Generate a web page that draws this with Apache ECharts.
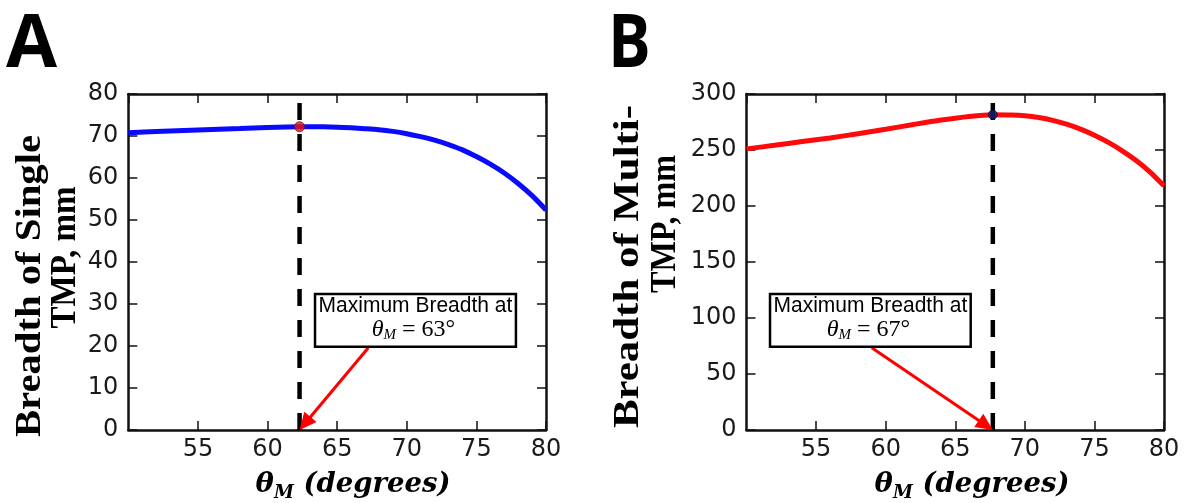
<!DOCTYPE html>
<html>
<head>
<meta charset="utf-8">
<script src="https://cdn.jsdelivr.net/npm/echarts@6/dist/echarts.min.js"></script>
<style>html,body{margin:0;padding:0;background:#fff;}#c{width:1185px;height:503px;}</style>
</head>
<body>
<div id="c"></div>
<script>
// ---- data ----
const thetaA = [50,52,54,56,58,60,62.3,64,65,66,67,68,69,70,71,72,73,74,75,76,77,78,79,80];
const breadthSingle = [70.8,71.05,71.3,71.55,71.8,72.05,72.2,72.18,72.1,71.95,71.75,71.5,71.1,70.55,69.85,69.0,67.95,66.7,65.1,63.3,61.2,58.7,55.8,52.4];
const thetaB = [50,52,54,56,58,60,62,64,66,67.7,69,70,71,72,73,74,75,76,77,78,79,80];
const breadthMulti = [251,254.2,257.5,260.8,264.5,268.5,272.8,276.8,280,281.5,281.3,280.6,279.0,276.5,273.0,268.6,263.2,256.8,249.3,240.6,230.3,218];
const peakA = [62.3, 72.2];
const peakB = [67.7, 281.5];
const dashTopA = 78.6;
const dashTopB = 294.6;
const xTicks = {min: 50, max: 80, interval: 5};
const yTicksA = {min: 0, max: 80, interval: 10};
const yTicksB = {min: 0, max: 300, interval: 50};
const noteA = {line1: 'Maximum Breadth at', value: '63°', box: [63.41, 32.38, 77.84, 19.83], from: [67.24, 19.6], to: [62.3, 0]};
const noteB = {line1: 'Maximum Breadth at', value: '67°', box: [51.69, 121.4, 66.11, 74.4], from: [59.0, 73.5], to: [67.7, 0]};

const chart = echarts.init(document.getElementById('c'), null, {renderer: 'canvas'});
const ink = '#111';
const tickFont = {fontFamily: 'DejaVu Sans', fontSize: 24, color: '#1a1a1a'};

function xAxes(grid) {
  return [
    {type: 'value', gridIndex: grid, position: 'bottom', ...xTicks,
     axisLine: {show: true, onZero: false, lineStyle: {color: ink, width: 2.5}},
     axisTick: {show: true, inside: true, length: 9, lineStyle: {color: ink, width: 1.5}},
     axisLabel: {show: true, showMinLabel: false, margin: 8, ...tickFont},
     splitLine: {show: false}},
    {type: 'value', gridIndex: grid, position: 'top', ...xTicks,
     axisLine: {show: true, onZero: false, lineStyle: {color: ink, width: 2.5}},
     axisTick: {show: true, inside: true, length: 9, lineStyle: {color: ink, width: 1.5}},
     axisLabel: {show: false}, splitLine: {show: false}}
  ];
}
function yAxes(grid, t) {
  return [
    {type: 'value', gridIndex: grid, position: 'left', ...t,
     axisLine: {show: true, onZero: false, lineStyle: {color: ink, width: 2.5}},
     axisTick: {show: true, inside: true, length: 9, lineStyle: {color: ink, width: 1.5}},
     axisLabel: {show: true, margin: 10, ...tickFont},
     splitLine: {show: false}},
    {type: 'value', gridIndex: grid, position: 'right', ...t,
     axisLine: {show: true, onZero: false, lineStyle: {color: ink, width: 2.5}},
     axisTick: {show: true, inside: true, length: 9, lineStyle: {color: ink, width: 1.5}},
     axisLabel: {show: false}, splitLine: {show: false}}
  ];
}
const zip = (xs, ys) => xs.map((x, i) => [x, ys[i]]);

chart.setOption({
  animation: false,
  backgroundColor: '#fff',
  grid: [
    {left: 128.3, top: 94, width: 417.7, height: 336},
    {left: 746.5, top: 94, width: 417.5, height: 336}
  ],
  xAxis: [...xAxes(0), ...xAxes(1)],
  yAxis: [...yAxes(0, yTicksA), ...yAxes(1, yTicksB)],
  series: [
    {type: 'line', xAxisIndex: 0, yAxisIndex: 0, data: zip(thetaA, breadthSingle), smooth: 0.3,
     showSymbol: false, lineStyle: {color: '#0a0aff', width: 5}, z: 2},
    {type: 'line', xAxisIndex: 0, yAxisIndex: 0, data: [[peakA[0], 0], [peakA[0], dashTopA]],
     showSymbol: false, lineStyle: {color: '#000', width: 4.5, type: [17, 14]}, z: 3},
    {type: 'scatter', xAxisIndex: 0, yAxisIndex: 0, data: [peakA], symbolSize: 10,
     itemStyle: {color: '#f01010', borderColor: '#552222', borderWidth: 1}, z: 4},
    {type: 'line', xAxisIndex: 2, yAxisIndex: 2, data: zip(thetaB, breadthMulti), smooth: 0.3,
     showSymbol: false, lineStyle: {color: '#ff0a0a', width: 5}, z: 2},
    {type: 'line', xAxisIndex: 2, yAxisIndex: 2, data: [[peakB[0], 0], [peakB[0], dashTopB]],
     showSymbol: false, lineStyle: {color: '#000', width: 4.5, type: [17, 14]}, z: 3},
    {type: 'scatter', xAxisIndex: 2, yAxisIndex: 2, data: [peakB], symbolSize: 9,
     itemStyle: {color: '#15206e', borderColor: '#0a1040', borderWidth: 1}, z: 4}
  ]
});

// ---- text measurement helper ----
const ctx = document.createElement('canvas').getContext('2d');
function measure(text, font) { ctx.font = font; return ctx.measureText(text).width; }

function rotatedTitle(text, cx, cy, len) {
  const w = measure(text, 'bold 36px "Liberation Serif"');
  return {type: 'text', x: cx, y: cy, rotation: Math.PI / 2, scaleX: len / w, z: 10,
          style: {text, fontFamily: 'Liberation Serif', fontWeight: 'bold', fontSize: 36,
                  fill: '#000', align: 'center', verticalAlign: 'middle'}};
}
function letter(text, x, cy, sx) {
  return {type: 'text', x, y: cy, scaleX: sx, z: 10,
          style: {text, fontFamily: 'Open Sans', fontWeight: 'bold', fontSize: 74,
                  fill: '#000', align: 'left', verticalAlign: 'middle'}};
}
function xTitle(cx, cy) {
  return {type: 'text', x: cx, y: cy, z: 10, style: {
    text: '{t|θ}{s|M}{t| (degrees)}', align: 'center', verticalAlign: 'middle', fill: '#000',
    rich: {
      t: {fontFamily: 'DejaVu Serif', fontWeight: 'bold', fontStyle: 'italic', fontSize: 27.5, lineHeight: 34, fill: '#000'},
      s: {fontFamily: 'DejaVu Serif', fontWeight: 'bold', fontStyle: 'italic', fontSize: 18, lineHeight: 12, verticalAlign: 'bottom', fill: '#000'}
    }}};
}
function note(seriesIndex, n) {
  const p = v => chart.convertToPixel({seriesIndex}, v);
  const a = p([n.box[0], n.box[1]]), b = p([n.box[2], n.box[3]]);
  const s = p(n.from), e = p(n.to);
  const cx = (a[0] + b[0]) / 2;
  const dx = e[0] - s[0], dy = e[1] - s[1], L = Math.hypot(dx, dy);
  const ux = dx / L, uy = dy / L, nx = -uy, ny = ux;
  const hl = 17, hw = 8;
  const bx = e[0] - ux * hl, by = e[1] - uy * hl;
  return [
    {type: 'line', z: 11, shape: {x1: s[0], y1: s[1], x2: e[0] - ux * 12, y2: e[1] - uy * 12},
     style: {stroke: '#ff0000', lineWidth: 3}},
    {type: 'polygon', z: 11, shape: {points: [[e[0], e[1]], [bx + nx * hw, by + ny * hw], [bx - nx * hw, by - ny * hw]]},
     style: {fill: '#ff0000'}},
    {type: 'rect', z: 12, shape: {x: a[0], y: a[1], width: b[0] - a[0], height: b[1] - a[1]},
     style: {fill: '#fff', stroke: '#000', lineWidth: 2.5}},
    {type: 'text', z: 13, x: cx, y: a[1] + 12, scaleY: 1.08,
     style: {text: n.line1, fontFamily: 'Liberation Sans', fontSize: 21, fill: '#000', align: 'center', verticalAlign: 'middle'}},
    {type: 'text', z: 13, x: cx - 2, y: a[1] + 36, style: {
      text: '{i|θ}{s|M}{r| = ' + n.value + '}', align: 'center', verticalAlign: 'middle',
      rich: {
        i: {fontFamily: 'Liberation Serif', fontStyle: 'italic', fontSize: 24, lineHeight: 26, fill: '#000'},
        s: {fontFamily: 'Liberation Serif', fontStyle: 'italic', fontSize: 15, lineHeight: 8, verticalAlign: 'bottom', fill: '#000'},
        r: {fontFamily: 'Liberation Serif', fontSize: 24, lineHeight: 26, fill: '#000'}
      }}}
  ];
}

chart.setOption({
  graphic: [
    letter('A', 6, 46, 1.0),
    letter('B', 608, 46, 0.86),
    rotatedTitle('Breadth of Single', 30.5, 286, 302),
    rotatedTitle('TMP, mm', 65.5, 257.5, 142),
    rotatedTitle('Breadth of Multi-', 629.2, 266.5, 323),
    rotatedTitle('TMP, mm', 665.3, 224, 138),
    xTitle(353, 485),
    xTitle(972, 485),
    ...note(0, noteA),
    ...note(3, noteB)
  ]
});
</script>
</body>
</html>
